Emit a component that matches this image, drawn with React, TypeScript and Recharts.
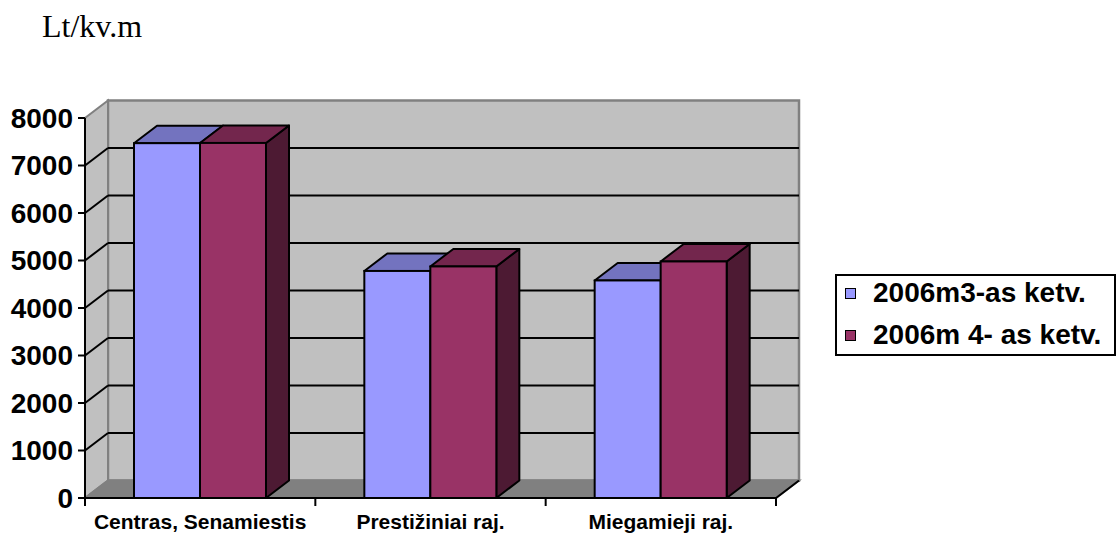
import React from 'react';
import { BarChart, Bar, XAxis, YAxis, CartesianGrid, Legend } from 'recharts';

// Average price per square metre by district, two quarters of 2006
const categories = ['Centras, Senamiestis', 'Prestižiniai raj.', 'Miegamieji raj.'];
const q3Values = [7470, 4780, 4580];
const q4Values = [7475, 4875, 4980];
const seriesNames = ['2006m3-as ketv.', '2006m 4- as ketv.'];
const seriesColors = ['#9999FF', '#993366'];
const yTicks = [0, 1000, 2000, 3000, 4000, 5000, 6000, 7000, 8000];
const unitLabel = 'Lt/kv.m';

const data = categories.map((name, i) => ({ name, q3: q3Values[i], q4: q4Values[i] }));

// depth offset of the pseudo-3D box and bars
const DX = 23;
const DY = 17.5;

const SANS = '"Liberation Sans", Arial, sans-serif';
const SERIF = '"Liberation Serif", "Times New Roman", serif';

const shades: Record<string, { top: string; side: string }> = {
  '#9999FF': { top: '#7373BF', side: '#4D4D80' },
  '#993366': { top: '#73264D', side: '#4D1A33' },
};

// Box-shaped bar: front face, top face and right side face
const Bar3D = (props: any) => {
  const { x, y, width, height, fill } = props;
  if (width == null || height == null || isNaN(x) || isNaN(y)) return null;
  const s = shades[fill] || { top: fill, side: fill };
  const r = x + width;
  const b = y + height;
  return (
    <g>
      <polygon
        points={`${r},${b} ${r + DX},${b - DY} ${r + DX},${y - DY} ${r},${y}`}
        fill={s.side}
        stroke="#000"
        strokeWidth={2}
        strokeLinejoin="round"
      />
      <polygon
        points={`${x},${y} ${x + DX},${y - DY} ${r + DX},${y - DY} ${r},${y}`}
        fill={s.top}
        stroke="#000"
        strokeWidth={2}
        strokeLinejoin="round"
      />
      <rect x={x} y={y} width={width} height={height} fill={fill} stroke="#000" strokeWidth={2} />
    </g>
  );
};

// Grid line renderer: draws the walls/floor once, then each value line
// across the side wall and the back wall.
const WallLine = (props: any) => {
  const { x1, x2, y1, index, y: top, height } = props;
  const bottom = top + height;
  const left = x1;
  const right = x2;
  const isEdge = Math.abs(y1 - top) < 0.5 || Math.abs(y1 - bottom) < 0.5;
  return (
    <g key={`wall-${index}`}>
      {index === 0 && (
        <g>
          <rect
            x={left + DX}
            y={top - DY}
            width={right - left}
            height={bottom - top}
            fill="#C0C0C0"
            stroke="#808080"
            strokeWidth={2.5}
          />
          <polygon
            points={`${left},${bottom} ${left + DX},${bottom - DY} ${left + DX},${top - DY} ${left},${top}`}
            fill="#C0C0C0"
            stroke="#808080"
            strokeWidth={2}
          />
          <polygon
            points={`${left},${bottom} ${right},${bottom} ${right + DX},${bottom - DY} ${left + DX},${bottom - DY}`}
            fill="#808080"
            stroke="#808080"
            strokeWidth={2}
          />
          <line x1={right} y1={bottom} x2={right + DX} y2={bottom - DY} stroke="#000" strokeWidth={2} />
        </g>
      )}
      {!isEdge && (
        <g>
          <line x1={left} y1={y1} x2={left + DX} y2={y1 - DY} stroke="#000" strokeWidth={2} />
          <line x1={left + DX} y1={y1 - DY} x2={right + DX} y2={y1 - DY} stroke="#000" strokeWidth={2} />
        </g>
      )}
    </g>
  );
};

// Category labels with tick marks on the category boundaries
const CategoryTick = (props: any) => {
  const { x, y, payload, index, width, visibleTicksCount } = props;
  const count = visibleTicksCount || categories.length;
  const half = payload && payload.offset ? payload.offset : width / count / 2;
  return (
    <g>
      <line x1={x - half} y1={y} x2={x - half} y2={y + 8} stroke="#000" strokeWidth={2} />
      {index === count - 1 && (
        <line x1={x + half} y1={y} x2={x + half} y2={y + 8} stroke="#000" strokeWidth={2} />
      )}
      <text
        x={x}
        y={y + 31}
        textAnchor="middle"
        fontSize={21}
        fontWeight="bold"
        fontFamily={SANS}
        fill="#000"
      >
        {payload.value}
      </text>
    </g>
  );
};

const LegendBox = (props: any) => {
  const payload = [...(props.payload || [])].sort(
    (a: any, b: any) => seriesNames.indexOf(a.value) - seriesNames.indexOf(b.value)
  );
  return (
    <div
      style={{
        boxSizing: 'border-box',
        width: 281,
        border: '2px solid #000',
        background: '#fff',
        padding: '0 0 2px 8px',
        fontFamily: SANS,
        fontSize: 28,
        fontWeight: 'bold',
        color: '#000',
      }}
    >
      {payload.map((item: any, i: number) => (
        <div
          key={`legend-${i}`}
          style={{
            display: 'flex',
            alignItems: 'center',
            height: 34,
            marginTop: i === 0 ? 0 : 8,
            whiteSpace: 'nowrap',
          }}
        >
          <span
            style={{
              display: 'inline-block',
              boxSizing: 'border-box',
              width: 11,
              height: 11,
              background: item.color,
              border: '1.5px solid #000',
              marginRight: 17,
            }}
          />
          <span style={{ lineHeight: '34px' }}>{item.value}</span>
        </div>
      ))}
    </div>
  );
};

export default function App() {
  return (
    <div style={{ position: 'absolute', left: 0, top: 0, width: 1117, height: 533, background: '#fff' }}>
      <div
        style={{
          position: 'absolute',
          left: 42,
          top: 10,
          fontFamily: SERIF,
          fontSize: 32,
          lineHeight: '32px',
          color: '#000',
          whiteSpace: 'nowrap',
        }}
      >
        {unitLabel}
      </div>
      <BarChart
        width={1117}
        height={533}
        data={data}
        margin={{ top: 118, right: 341, bottom: 0, left: 0 }}
        barSize={66}
        barGap={0}
        style={{ fontFamily: SANS }}
      >
        <CartesianGrid vertical={false} horizontal={WallLine} />
        <XAxis
          dataKey="name"
          height={35}
          interval={0}
          tickLine={false}
          tickSize={0}
          tickMargin={0}
          axisLine={{ stroke: '#000', strokeWidth: 2 }}
          tick={CategoryTick}
        />
        <YAxis
          width={85}
          domain={[0, 8000]}
          ticks={yTicks}
          interval={0}
          tickSize={7}
          tickMargin={5}
          axisLine={{ stroke: '#000', strokeWidth: 2 }}
          tickLine={{ stroke: '#000', strokeWidth: 2 }}
          tick={{ fill: '#000', fontSize: 28, fontWeight: 'bold', fontFamily: SANS }}
        />
        <Legend
          layout="vertical"
          align="center"
          verticalAlign="middle"
          wrapperStyle={{ left: 835, top: 274, width: 281 }}
          content={LegendBox}
        />
        <Bar dataKey="q3" name={seriesNames[0]} fill={seriesColors[0]} shape={Bar3D} isAnimationActive={false} />
        <Bar dataKey="q4" name={seriesNames[1]} fill={seriesColors[1]} shape={Bar3D} isAnimationActive={false} />
      </BarChart>
    </div>
  );
}
